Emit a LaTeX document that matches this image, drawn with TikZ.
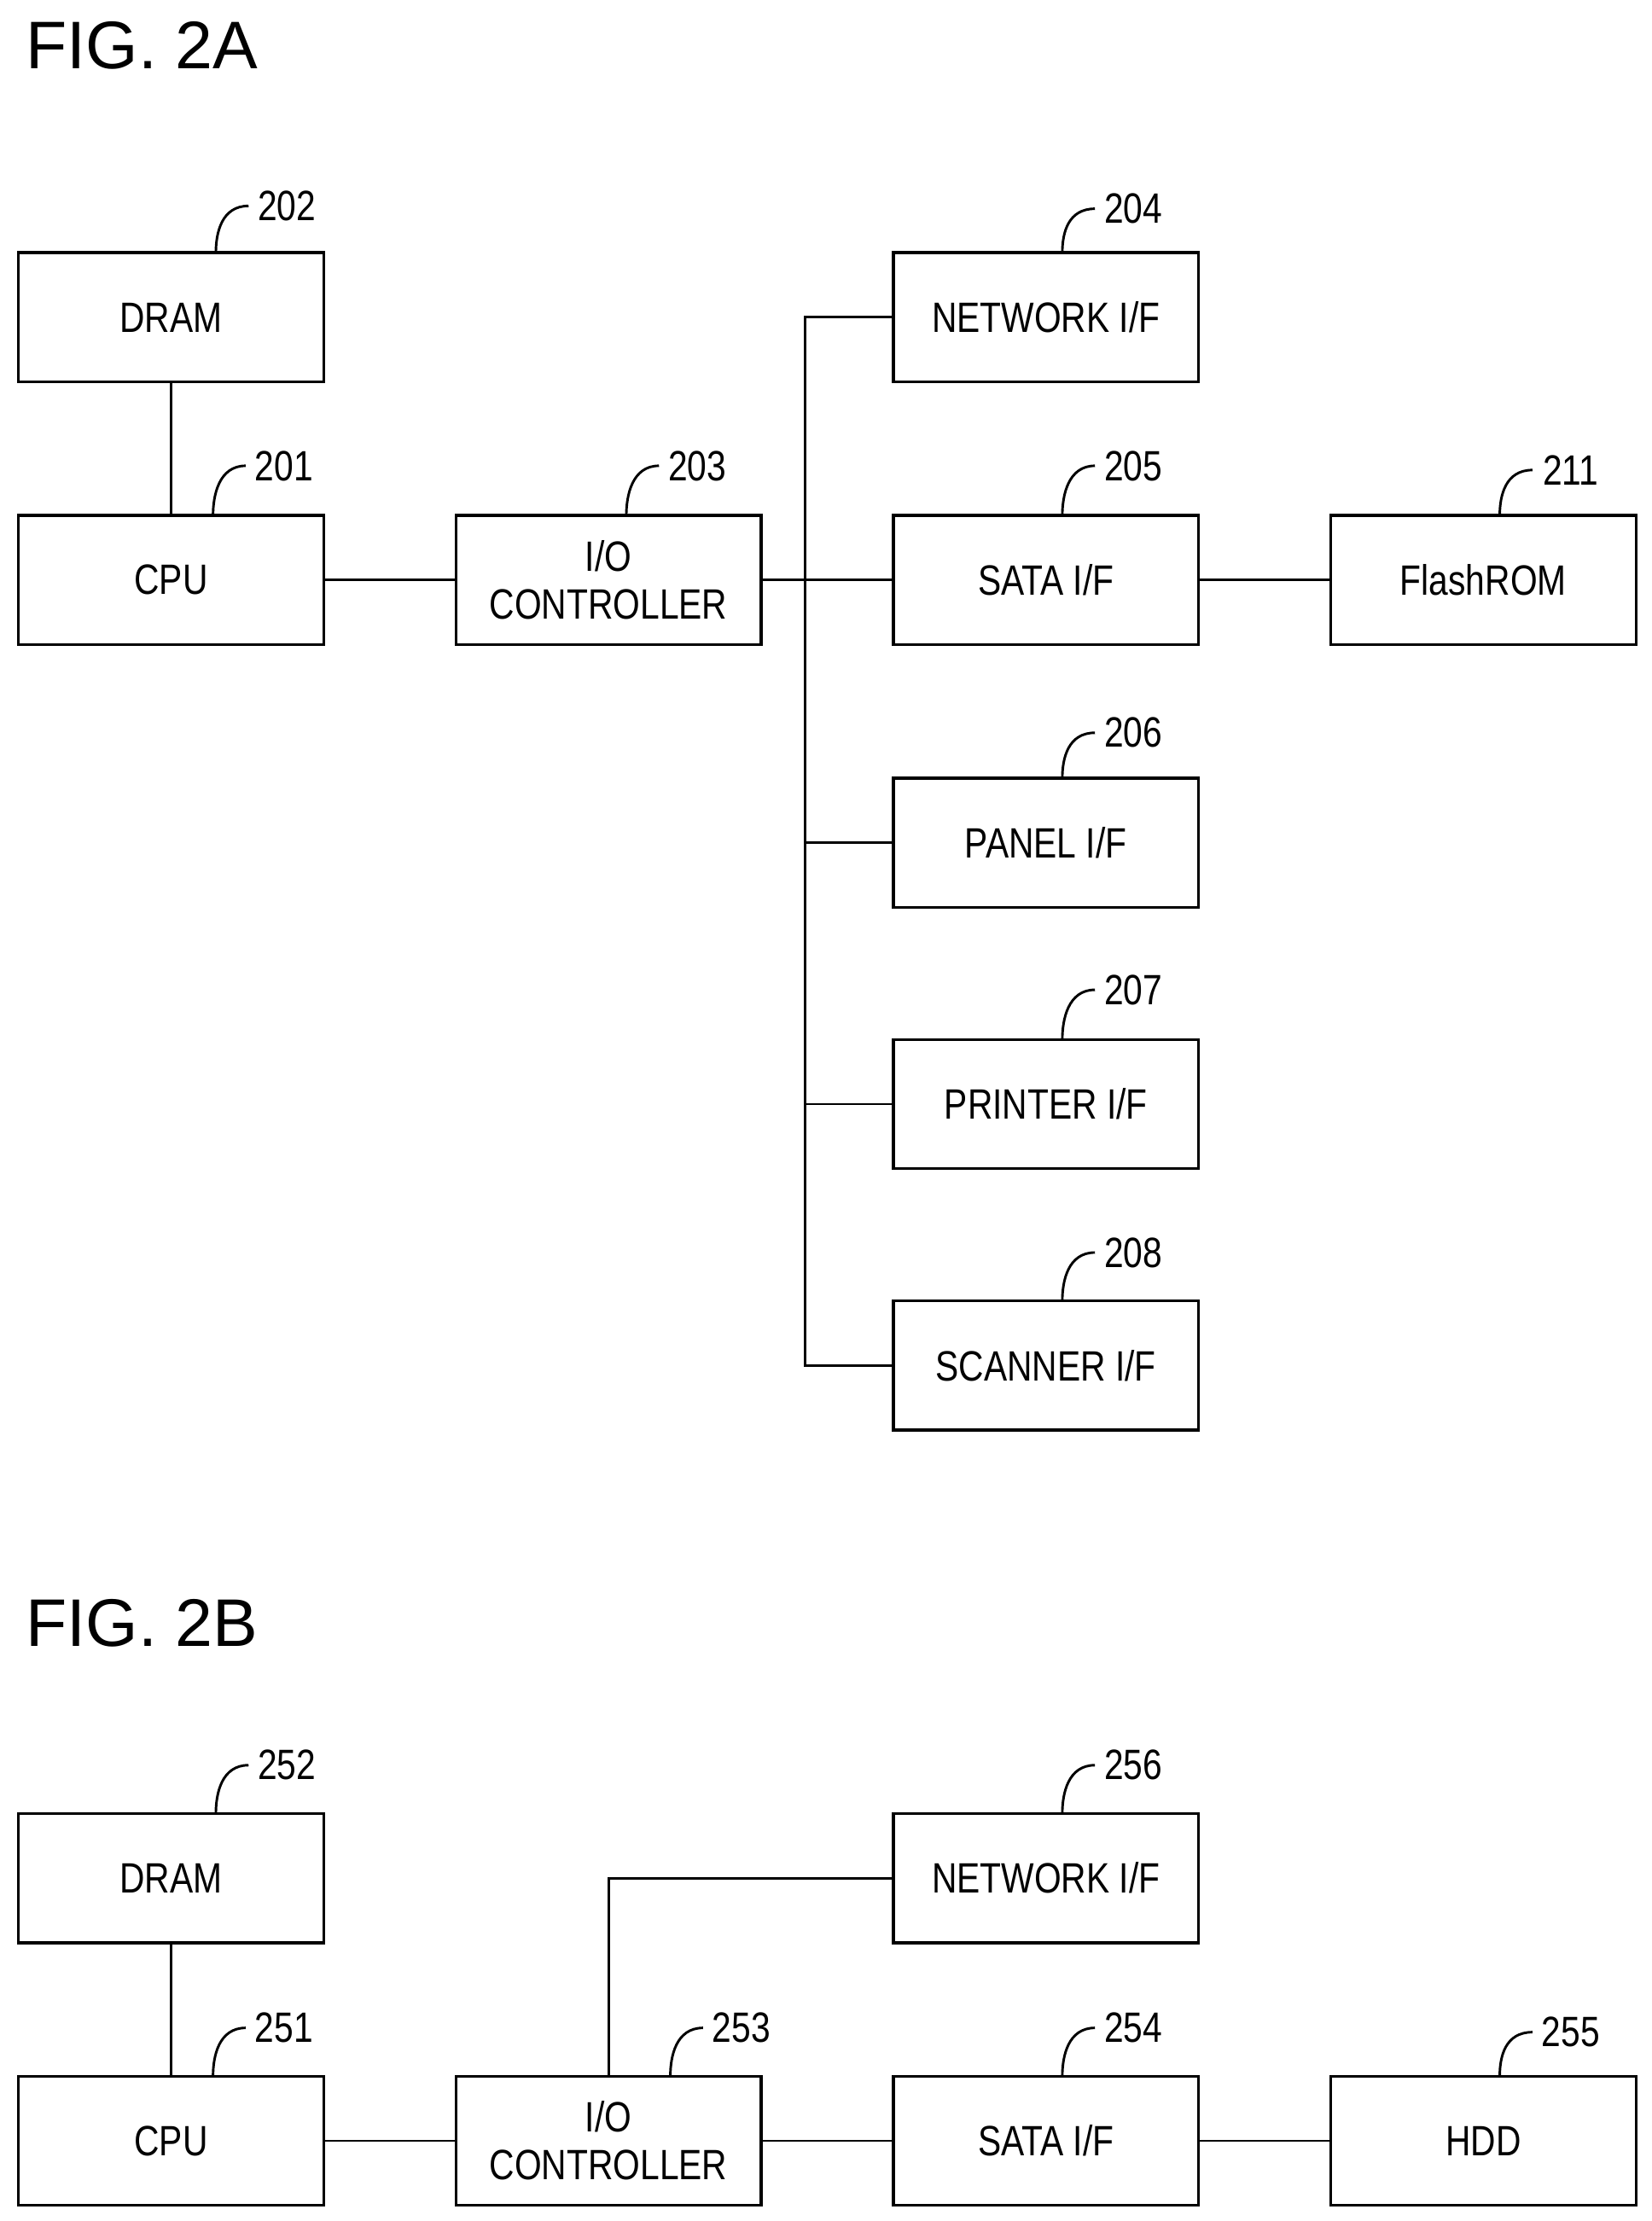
\documentclass[tikz,border=0pt]{standalone}
\usepackage{fontspec}
\usetikzlibrary{calc}
\setmainfont{Liberation Sans}[FakeStretch=0.82]
\newfontfamily\titlefont{Liberation Sans}
\begin{document}
\begin{tikzpicture}[x=0.02cm,y=-0.02cm,
 box/.style={draw,line width=1.2pt,minimum width=4.3cm,minimum height=1.82cm,outer sep=0pt,anchor=north west,inner sep=0pt,font=\fontsize{17}{17}\selectfont,align=center},
 num/.style={font=\fontsize{17}{17}\selectfont,inner sep=0pt},
 ln/.style={line width=1pt}]
\useasboundingbox (0,0) rectangle (1163,1564);
\node[anchor=west,font=\titlefont\fontsize{27}{27}\selectfont,inner sep=0pt] (t1) at (18,32) {FIG. 2A};
\node[anchor=west,font=\titlefont\fontsize{27}{27}\selectfont,inner sep=0pt] (t2) at (18,1143) {FIG. 2B};
% Fig 2A
\node[box] (dram) at (13,178) {DRAM};
\node[box] (cpu) at (13,363) {CPU};
\node[box] (io) at (321,363) {I/O\\[2pt]CONTROLLER};
\node[box] (net) at (629,178) {NETWORK I/F};
\node[box] (sata) at (629,363) {SATA I/F};
\node[box] (flash) at (937,363) {FlashROM};
\node[box] (panel) at (629,548) {PANEL I/F};
\node[box] (prn) at (629,732) {PRINTER I/F};
\node[box] (scn) at (629,916) {SCANNER I/F};
\draw[ln] (dram) -- (cpu);
\draw[ln] (cpu) -- (io);
\draw[ln] (io) -- (sata);
\draw[ln] (sata) -- (flash);
\draw[ln] (net.west) -- ++(-62,0) coordinate (bt) |- (scn.west);
\draw[ln] (panel.west) -- ++(-62,0);
\draw[ln] (prn.west) -- ++(-62,0);
% Fig 2B
\node[box] (dram2) at (13,1277) {DRAM};
\node[box] (cpu2) at (13,1462) {CPU};
\node[box] (io2) at (321,1462) {I/O\\[2pt]CONTROLLER};
\node[box] (net2) at (629,1277) {NETWORK I/F};
\node[box] (sata2) at (629,1462) {SATA I/F};
\node[box] (hdd) at (937,1462) {HDD};
\draw[ln] (dram2) -- (cpu2);
\draw[ln] (cpu2) -- (io2);
\draw[ln] (io2) -- (sata2);
\draw[ln] (sata2) -- (hdd);
\draw[ln] (io2.north) |- (net2.west);
% labels
\foreach \t/\lx/\ly/\top in {202/202/145/178,201/200/328/363,203/491/328/363,204/798/147/178,205/798/328/363,206/798/516/548,207/798/697/732,208/798/882/916,211/1106/331/363,252/202/1243/1277,251/200/1428/1462,253/522/1428/1462,254/798/1428/1462,255/1106/1431/1462,256/798/1243/1277}{
 \node[num] (n\t) at (\lx,\ly) {\t};
 \draw[ln] ($(\lx,\top)+(-50,0)$) .. controls ($(\lx,\top)+(-50,-14)$) and ($(\lx,\ly)+(-46,0)$) .. ($(\lx,\ly)+(-27,0)$);
}
\end{tikzpicture}
\end{document}
